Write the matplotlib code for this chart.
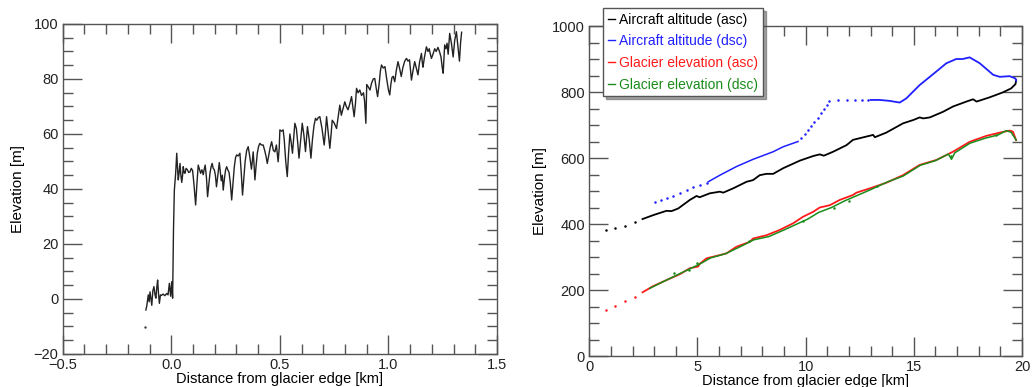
import matplotlib

matplotlib.use("Agg")
import matplotlib.pyplot as plt
from matplotlib.lines import Line2D
from matplotlib.ticker import MultipleLocator

plt.rcParams["font.family"] = ["Liberation Sans", "DejaVu Sans"]
plt.rcParams["font.size"] = 10.5

# left panel: terminus profile (km, m)
front_dist = [-0.117, -0.113, -0.106, -0.102, -0.098, -0.090, -0.085, -0.080, -0.075, -0.071,
              -0.067, -0.063, -0.059, -0.055, -0.050, -0.045, -0.038, -0.030, -0.021, -0.015,
              -0.009, -0.003, 0.002, 0.006, 0.010, 0.014, 0.020, 0.025, 0.029, 0.032,
              0.036, 0.040, 0.044, 0.048, 0.052, 0.055, 0.059, 0.063, 0.068, 0.074,
              0.080, 0.086, 0.092, 0.098, 0.104, 0.112, 0.118, 0.124, 0.130, 0.135,
              0.141, 0.147, 0.151, 0.156, 0.162, 0.167, 0.173, 0.178, 0.183, 0.188,
              0.193, 0.198, 0.203, 0.208, 0.214, 0.221, 0.226, 0.230, 0.235, 0.239,
              0.245, 0.250, 0.255, 0.260, 0.266, 0.272, 0.278, 0.284, 0.290, 0.296,
              0.301, 0.308, 0.316, 0.322, 0.328, 0.334, 0.340, 0.347, 0.354, 0.361,
              0.369, 0.373, 0.377, 0.381, 0.385, 0.390, 0.396, 0.402, 0.408, 0.415,
              0.423, 0.430, 0.436, 0.442, 0.448, 0.455, 0.462, 0.470, 0.477, 0.484,
              0.492, 0.497, 0.500, 0.508, 0.515, 0.520, 0.527, 0.534, 0.540, 0.546,
              0.552, 0.558, 0.563, 0.569, 0.576, 0.582, 0.588, 0.595, 0.603, 0.610,
              0.618, 0.627, 0.635, 0.643, 0.650, 0.657, 0.664, 0.670, 0.677, 0.684,
              0.694, 0.704, 0.710, 0.715, 0.722, 0.730, 0.736, 0.741, 0.750, 0.761,
              0.768, 0.776, 0.783, 0.790, 0.799, 0.806, 0.814, 0.822, 0.830, 0.836,
              0.842, 0.848, 0.853, 0.860, 0.868, 0.876, 0.885, 0.890, 0.896, 0.900,
              0.908, 0.915, 0.922, 0.930, 0.937, 0.943, 0.950, 0.957, 0.963, 0.968,
              0.976, 0.984, 0.992, 1.000, 1.006, 1.011, 1.016, 1.022, 1.029, 1.036,
              1.044, 1.051, 1.059, 1.066, 1.075, 1.083, 1.090, 1.097, 1.102, 1.106,
              1.113, 1.121, 1.128, 1.136, 1.143, 1.152, 1.156, 1.159, 1.166, 1.175,
              1.182, 1.188, 1.193, 1.198, 1.205, 1.213, 1.220, 1.228, 1.235, 1.242,
              1.248, 1.252, 1.256, 1.259, 1.265, 1.270, 1.275, 1.282, 1.290, 1.298,
              1.305, 1.313, 1.320, 1.327, 1.332, 1.337]
front_elev = [-4.0, -2.5, 1.5, -1.0, 2.6, -2.3, 3.0, 4.5, 1.5, 0.3,
              4.0, 6.9, 2.0, -1.6, 1.5, 1.3, 1.8, 1.2, 2.0, 1.5,
              5.7, 1.0, 6.3, 0.3, 25.0, 39.6, 45.7, 53.0, 47.0, 43.3,
              46.0, 49.3, 45.0, 42.4, 45.0, 48.1, 46.0, 45.7, 47.5, 47.0,
              46.0, 46.2, 47.5, 46.7, 42.0, 34.2, 42.0, 48.7, 47.0, 45.7,
              47.0, 45.2, 47.0, 48.7, 44.0, 37.2, 42.0, 45.7, 48.0, 49.3,
              47.5, 47.0, 45.0, 40.8, 45.0, 49.6, 46.0, 43.0, 45.0, 39.6,
              44.0, 47.0, 48.1, 47.0, 46.0, 42.0, 36.0, 42.0, 48.0, 51.5,
              52.4, 52.0, 53.0, 46.0, 37.8, 44.0, 50.0, 54.0, 55.4, 52.0,
              47.2, 50.0, 53.5, 49.0, 43.3, 48.0, 53.0, 55.5, 56.6, 56.0,
              56.0, 54.0, 52.0, 49.3, 52.0, 55.0, 57.2, 54.0, 53.5, 56.0,
              49.9, 55.0, 61.5, 61.0, 61.5, 58.0, 50.0, 44.5, 53.0, 60.0,
              57.0, 53.0, 58.0, 63.9, 62.0, 57.0, 51.2, 57.0, 63.9, 60.0,
              53.6, 62.7, 58.0, 51.2, 58.0, 63.0, 65.7, 65.0, 66.0, 66.3,
              62.0, 56.0, 61.0, 66.3, 61.0, 54.8, 60.0, 65.0, 64.0, 62.0,
              66.0, 70.5, 66.8, 69.0, 71.7, 70.0, 68.8, 71.0, 73.6, 70.0,
              66.3, 71.0, 76.6, 75.0, 76.0, 74.0, 75.0, 72.0, 63.9, 78.0,
              77.0, 76.0, 78.4, 80.0, 80.2, 77.0, 73.6, 78.0, 83.0, 85.1,
              84.0, 84.5, 80.0, 76.0, 74.2, 78.0, 80.5, 81.0, 79.0, 83.0,
              86.3, 84.0, 80.9, 84.0, 86.5, 87.5, 86.5, 87.0, 83.0, 79.6,
              83.0, 86.3, 84.0, 81.5, 86.0, 89.3, 86.0, 84.3, 88.0, 91.7,
              90.0, 91.0, 89.0, 87.5, 89.0, 91.0, 90.0, 91.5, 90.0, 88.0,
              84.0, 82.1, 88.0, 92.4, 91.0, 93.0, 89.0, 96.6, 93.0, 88.0,
              94.0, 97.2, 92.0, 86.5, 93.0, 97.0]
stray_dist = [-0.121]
stray_elev = [-10.1]

# right panel: along-track profiles (km, m)
black_dot_x = [0.77, 1.19, 1.65, 2.10]
black_dot_y = [381, 387, 395, 406]
black_x = [2.46, 2.96, 3.57, 3.80, 4.11, 4.65, 4.96, 5.10, 5.57, 6.04, 6.19, 6.65, 7.27, 7.57,
           7.88, 8.19, 8.50, 8.96, 9.73, 10.35, 10.65, 10.84, 11.27, 11.89, 12.19, 12.81, 13.12,
           13.20, 13.73, 14.50, 14.97, 15.27, 15.43, 15.74, 16.35, 16.81, 17.43, 17.74, 17.90,
           18.51, 19.12, 19.50, 19.70, 19.73]
black_y = [415, 427, 440, 439, 447, 473, 485, 481, 493, 498, 495, 508, 528, 533,
           548, 552, 552, 569, 592, 606, 611, 607, 619, 639, 655, 665, 670,
           663, 677, 705, 715, 723, 720, 723, 740, 756, 771, 778, 771,
           784, 799, 811, 824, 836]

blue_dot_x = [3.03, 3.30, 3.57, 3.88, 4.19, 4.50, 4.80, 5.10, 5.42,
              9.80, 9.95, 10.10, 10.25, 10.40, 10.55, 10.70, 10.85, 11.00, 11.10,
              11.50, 11.90, 12.30, 12.60, 12.90]
blue_dot_y = [468, 473, 478, 486, 493, 502, 511, 518, 525,
              660, 672, 685, 697, 710, 722, 735, 748, 762, 774,
              775, 776, 776, 776, 776]
blue_a_x = [5.50, 6.04, 6.80, 7.57, 8.50, 8.96, 9.65]
blue_a_y = [528, 548, 574, 596, 619, 634, 650]
blue_b_x = [13.00, 13.42, 13.89, 14.35, 14.66, 15.27, 16.04, 16.50, 16.96, 17.26, 17.58,
            18.05, 18.67, 18.97, 19.43, 19.70, 19.73]
blue_b_y = [776, 776, 773, 768, 781, 821, 862, 887, 900, 900, 905,
            887, 852, 846, 848, 841, 834]

red_dot_x = [0.77, 1.19, 1.65, 2.10]
red_dot_y = [140, 152, 167, 180]
red_x = [2.46, 2.96, 3.57, 4.19, 4.65, 5.03, 5.10, 5.42, 6.04, 6.34, 6.80, 7.42, 7.57, 8.19,
         8.80, 9.42, 9.88, 10.35, 10.65, 11.12, 11.58, 12.19, 12.35, 12.97, 13.73, 14.50,
         15.27, 16.04, 16.81, 17.58, 18.35, 18.97, 19.43, 19.58, 19.73]
red_y = [193, 212, 230, 248, 266, 271, 279, 296, 306, 311, 331, 346, 356, 366,
         382, 402, 422, 437, 450, 457, 473, 488, 495, 508, 525, 548,
         579, 594, 619, 649, 667, 677, 683, 680, 654]

green_x = [2.8, 3.5, 4.2, 4.9, 5.2, 5.6, 6.3, 7.0, 7.6, 8.3, 9.0, 9.6, 10.1, 10.6, 11.2, 11.8,
           12.4, 13.0, 13.8, 14.5, 15.3, 16.0, 16.6, 16.74, 16.9, 17.6, 18.3, 18.9, 19.27,
           19.5, 19.73]
green_y = [205, 228, 250, 272, 282, 297, 310, 332, 352, 362, 382, 400, 415, 435, 450, 470,
           487, 504, 528, 545, 578, 592, 612, 596, 616, 645, 660, 670, 683,
           678, 654]
green_dot_x = [3.9, 4.6, 5.0, 7.4, 9.9, 11.3, 12.0, 13.3, 16.7, 18.8]
green_dot_y = [252, 262, 281, 350, 410, 450, 470, 515, 605, 669]

BLUE = "#2020ff"
RED = "#ff1a1a"
GREEN = "#1a8c1a"
FRAME = "#555555"


def style_axes(ax, xmaj, xmin, ymaj, ymin):
    ax.xaxis.set_major_locator(MultipleLocator(xmaj))
    ax.xaxis.set_minor_locator(MultipleLocator(xmin))
    ax.yaxis.set_major_locator(MultipleLocator(ymaj))
    ax.yaxis.set_minor_locator(MultipleLocator(ymin))
    ax.tick_params(which="both", direction="in", top=True, right=True,
                   color=FRAME, width=1, labelcolor="#222222", pad=3, labelsize=10.5)
    ax.tick_params(which="major", length=14)
    ax.tick_params(which="minor", length=7)
    for sp in ax.spines.values():
        sp.set_color(FRAME)
        sp.set_linewidth(1)


fig = plt.figure(figsize=(10.32, 3.87), dpi=100)
ax1 = fig.add_axes([0.0608, 0.0853, 0.4208, 0.8527])
ax2 = fig.add_axes([0.571, 0.0801, 0.4193, 0.8527])

ax1.plot(front_dist, front_elev, color="#222222", lw=1.0)
ax1.plot(stray_dist, stray_elev, ".", color="#444444", ms=1.5)
ax1.set_xlim(-0.5, 1.5)
ax1.set_ylim(-20, 100)
style_axes(ax1, 0.5, 0.1, 20, 5)
ax1.set_xlabel("Distance from glacier edge [km]", labelpad=0)
ax1.set_ylabel("Elevation [m]", labelpad=6, fontsize=11)

ax2.plot(black_dot_x, black_dot_y, ".", color="black", ms=1.6)
ax2.plot(black_x, black_y, color="black", lw=1.3)
ax2.plot(blue_dot_x, blue_dot_y, ".", color=BLUE, ms=1.6)
ax2.plot(blue_a_x, blue_a_y, color=BLUE, lw=1.1)
ax2.plot(blue_b_x, blue_b_y, color=BLUE, lw=1.3)
ax2.plot(red_dot_x, red_dot_y, ".", color=RED, ms=1.6)
ax2.plot(red_x, red_y, color=RED, lw=1.3)
ax2.plot(green_x, green_y, color=GREEN, lw=1.1)
ax2.plot(green_dot_x, green_dot_y, ".", color=GREEN, ms=1.6)
ax2.set_xlim(0, 20)
ax2.set_ylim(0, 1000)
style_axes(ax2, 5, 1, 200, 50)
ax2.set_xlabel("Distance from glacier edge [km]", labelpad=0)
ax2.set_ylabel("Elevation [m]", labelpad=4, fontsize=11)

labels = ["Aircraft altitude (asc)", "Aircraft altitude (dsc)",
          "Glacier elevation (asc)", "Glacier elevation (dsc)"]
colors = ["black", BLUE, RED, GREEN]
handles = [Line2D([], [], color=c, lw=1) for c in colors]
leg = ax2.legend(handles, labels, loc="upper left", bbox_to_anchor=(0.032, 1.055),
                 frameon=True, fancybox=False, shadow=True, handlelength=0.5,
                 handletextpad=0.3, borderpad=0.35, labelspacing=0.55,
                 borderaxespad=0, fontsize=10)
leg.get_frame().set_edgecolor(FRAME)
leg.get_frame().set_linewidth(1)
for txt, c in zip(leg.get_texts(), colors):
    txt.set_color(c)

fig.savefig("out.png", dpi=100)
